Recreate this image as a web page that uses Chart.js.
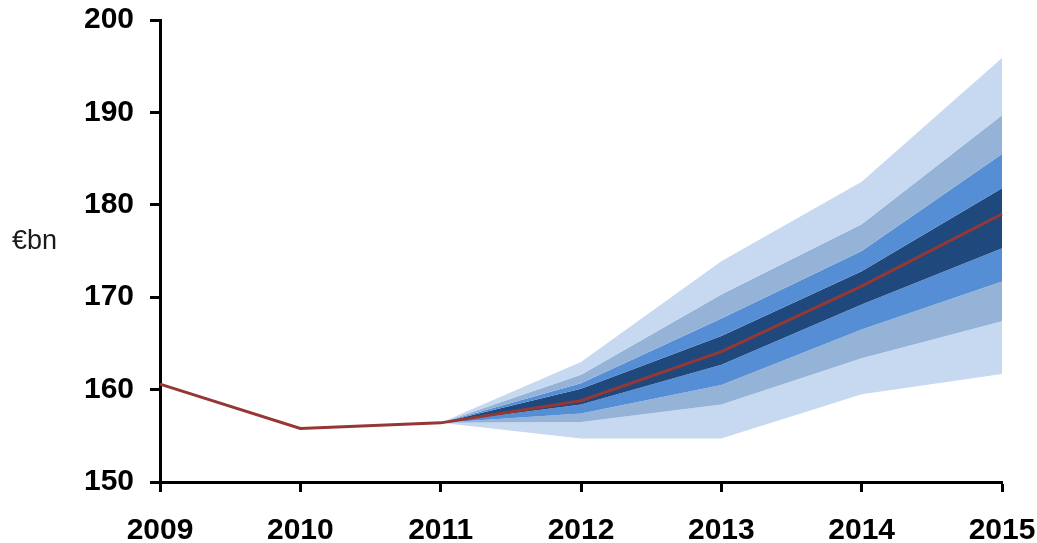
<!DOCTYPE html>
<html>
<head>
<meta charset="utf-8">
<script src="https://cdn.jsdelivr.net/npm/chart.js@4.4.1/dist/chart.umd.min.js"></script>
<style>
  html, body { margin: 0; padding: 0; background: #ffffff; }
  #wrap { width: 1037px; height: 543px; position: relative; }
  canvas { display: block; }
</style>
</head>
<body>
<div id="wrap"><canvas id="fan" width="1037" height="543"></canvas></div>
<script>
// Years on the horizontal axis
const years = ['2009', '2010', '2011', '2012', '2013', '2014', '2015'];

// Central projection (€bn)
const central = [160.6, 155.8, 156.4, 158.8, 164.1, 171.2, 179.0];

// Fan bands: upper and lower edges, widest to narrowest
const outerHigh = [null, null, 156.4, 163.0, 173.9, 182.5, 195.9];
const outerLow  = [null, null, 156.4, 154.7, 154.7, 159.5, 161.7];
const wideHigh  = [null, null, 156.4, 161.6, 170.3, 177.9, 189.7];
const wideLow   = [null, null, 156.4, 156.5, 158.4, 163.4, 167.4];
const midHigh   = [null, null, 156.4, 160.7, 167.7, 175.0, 185.5];
const midLow    = [null, null, 156.4, 157.4, 160.5, 166.5, 171.7];
const innerHigh = [null, null, 156.4, 160.1, 165.8, 172.8, 181.8];
const innerLow  = [null, null, 156.4, 158.4, 162.7, 169.2, 175.3];

// Tick values on the vertical axis
const yTicks = [150, 160, 170, 180, 190, 200];
const unitLabel = '€bn';

const cOuter = '#c6d9f0';
const cWide  = '#95b3d7';
const cMid   = '#558ed5';
const cInner = '#1f497d';
const cLine  = '#953735';

const tickFont = { family: '"Liberation Sans", Arial, sans-serif', size: 30, weight: 'bold' };

function band(data, fillTarget, color) {
  return {
    data: data,
    order: 1,
    borderWidth: 0,
    borderColor: 'rgba(0,0,0,0)',
    backgroundColor: color,
    pointRadius: 0,
    tension: 0,
    fill: fillTarget,
    spanGaps: false
  };
}

// Draws the unit label to the left of the value axis
const unitPlugin = {
  id: 'unitLabel',
  afterDraw(chart) {
    const ctx = chart.ctx;
    const y = chart.scales.y.getPixelForValue(176.0);
    ctx.save();
    ctx.font = '27px "Liberation Sans", Arial, sans-serif';
    ctx.fillStyle = '#1a1a1a';
    ctx.textAlign = 'left';
    ctx.textBaseline = 'middle';
    ctx.fillText(unitLabel, 12, y);
    ctx.restore();
  }
};

new Chart(document.getElementById('fan'), {
  type: 'line',
  data: {
    labels: years,
    datasets: [
      band(outerHigh, 1, cOuter),  // 0
      band(wideHigh, 2, cWide),    // 1
      band(midHigh, 3, cMid),      // 2
      band(innerHigh, 4, cInner),  // 3
      band(innerLow, 5, cMid),     // 4
      band(midLow, 6, cWide),      // 5
      band(wideLow, 7, cOuter),    // 6
      band(outerLow, false, cOuter), // 7
      {
        data: central,
        order: 0,
        borderColor: cLine,
        borderWidth: 3,
        pointRadius: 0,
        tension: 0,
        fill: false
      }
    ]
  },
  options: {
    responsive: false,
    animation: false,
    devicePixelRatio: 1,
    layout: { padding: { top: 20, right: 35, left: 0, bottom: 0 } },
    plugins: {
      legend: { display: false },
      tooltip: { enabled: false }
    },
    scales: {
      x: {
        type: 'category',
        offset: false,
        border: { display: true, color: '#000000', width: 3 },
        grid: {
          display: true,
          drawOnChartArea: false,
          drawTicks: true,
          tickLength: 10,
          tickWidth: 3,
          tickColor: '#000000'
        },
        ticks: {
          color: '#000000',
          padding: 21,
          maxRotation: 0,
          autoSkip: false,
          font: tickFont
        },
        afterFit(scale) {
          scale.height = 61;
          scale.paddingLeft = 0;
          scale.paddingRight = 0;
        }
      },
      y: {
        min: 150,
        max: 200,
        afterBuildTicks(scale) { scale.ticks = yTicks.map(v => ({ value: v })); },
        border: { display: true, color: '#000000', width: 3 },
        grid: {
          display: true,
          drawOnChartArea: false,
          drawTicks: true,
          tickLength: 10,
          tickWidth: 3,
          tickColor: '#000000'
        },
        ticks: {
          color: '#000000',
          padding: 16,
          autoSkip: false,
          font: tickFont
        },
        afterFit(scale) {
          scale.width = 160;
          scale.paddingTop = 0;
          scale.paddingBottom = 0;
        }
      }
    }
  },
  plugins: [unitPlugin]
});
</script>
</body>
</html>
